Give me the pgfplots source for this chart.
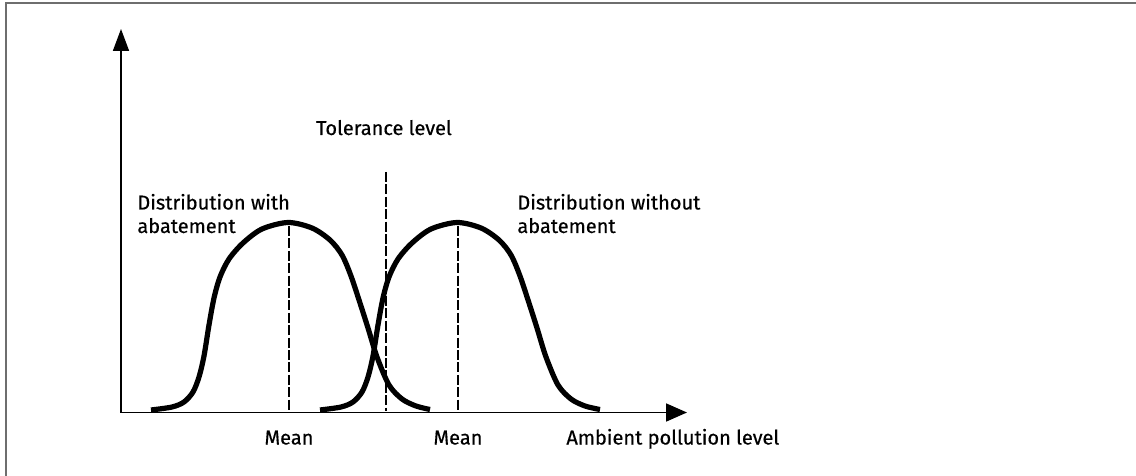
\documentclass[border=0pt]{standalone}
\usepackage{fontspec}
\setmainfont{Fira Sans}[FakeBold=0.5]
\usepackage{pgfplots}
\pgfplotsset{compat=1.18}
\usetikzlibrary{arrows.meta}
\definecolor{framegray}{HTML}{6E6E6E}

\begin{document}
\begin{tikzpicture}
\useasboundingbox (0,0) rectangle (568pt,238pt);
\begin{axis}[
  scale only axis, width=568pt, height=238pt,
  xmin=0, xmax=1136, ymin=0, ymax=476, y dir=reverse,
  hide axis, clip=false,
  every node/.style={font=\fontsize{10.9}{12}\selectfont},
]
% frame (top and left edges only)
\draw[framegray, line width=1pt] (6,480) -- (6,3.5) -- (1140,3.5);
% axes
\draw[line width=0.9pt, -{Triangle[width=8pt,length=11pt]}] (121,412.5) -- (121,29);
\draw[line width=0.9pt, -{Triangle[width=9pt,length=10.5pt]}] (121,412.5) -- (687,412.5);

% distribution with abatement
\addplot[black, line width=2.6pt, smooth, tension=0.5] coordinates {
  (151,410) (172,407) (184,402) (193,392) (199,377) (204,356) (209,325)
  (214,298) (220,277) (229,259) (243,243) (262,229) (288,222.5)
  (312,228) (330,240) (342,255) (351,276) (360,303) (368,328)
  (377,357) (389,385) (402,399) (416,406) (430,409.5)};
% distribution without abatement
\addplot[black, line width=2.6pt, smooth, tension=0.5] coordinates {
  (320,410) (341,407) (353,402) (362,392) (368,377) (373,356) (378,325)
  (383,298) (389,277) (398,259) (412,243) (431,229) (457,222.5)
  (481,228) (499,240) (511,255) (520,276) (529,303) (537,328)
  (546,357) (558,385) (571,399) (585,406) (600,409.5)};

% means and tolerance level
\addplot[black, line width=1.1pt, dash pattern=on 5pt off 1.2pt] coordinates {(289,226) (289,411)};
\addplot[black, line width=1.1pt, dash pattern=on 5pt off 1.2pt] coordinates {(458,226) (458,411)};
\addplot[black, line width=1.2pt, dash pattern=on 5pt off 1.2pt] coordinates {(386,172) (386,411)};

% labels
\node[anchor=base] at (384,135) {Tolerance level};
\node[anchor=base west, inner sep=0pt] at (137,209.5) {Distribution with};
\node[anchor=base west, inner sep=0pt] at (137,233) {abatement};
\node[anchor=base west, inner sep=0pt] at (517,209.5) {Distribution without};
\node[anchor=base west, inner sep=0pt] at (517,233) {abatement};
\node[anchor=base] at (289,444.5) {Mean};
\node[anchor=base] at (458,444.5) {Mean};
\node[anchor=base west, inner sep=0pt] at (566,444.5) {Ambient pollution level};
\end{axis}
\end{tikzpicture}
\end{document}
